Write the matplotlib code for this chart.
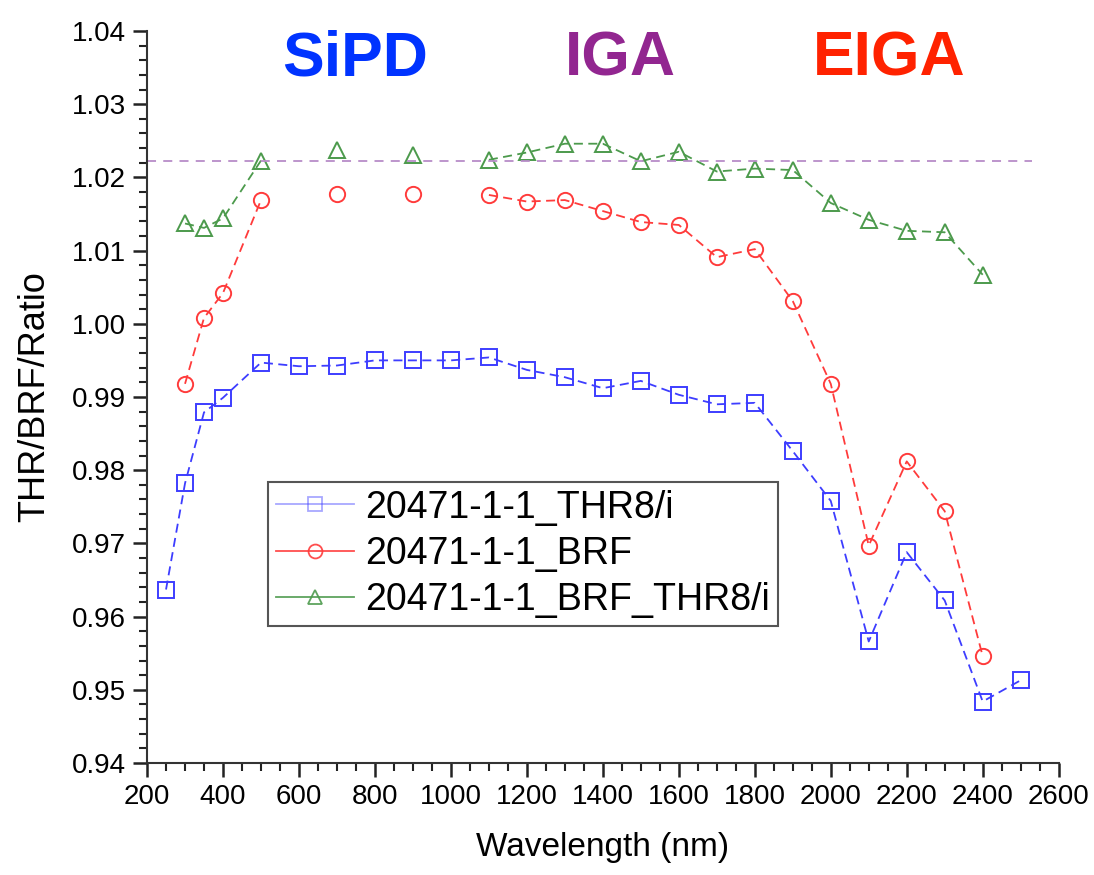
import numpy as np
import matplotlib
matplotlib.use('Agg')
import matplotlib.pyplot as plt
from matplotlib.lines import Line2D
from matplotlib.ticker import MultipleLocator, FormatStrFormatter

plt.rcParams['font.family'] = ['Liberation Sans', 'DejaVu Sans']

### DATA
# wavelength grid (nm)
wavelength = [250, 300, 350, 400, 500, 600, 700, 800, 900, 1000, 1100, 1200, 1300,
              1400, 1500, 1600, 1700, 1800, 1900, 2000, 2100, 2200, 2300, 2400, 2500]

# THR8/i ratio
thr8 = [0.9637, 0.9782, 0.9879, 0.9899, 0.9947, 0.9942, 0.9943, 0.9950, 0.9950, 0.9950,
        0.9954, 0.9937, 0.9927, 0.9912, 0.9922, 0.9903, 0.9890, 0.9892, 0.9826, 0.9758,
        0.9566, 0.9688, 0.9622, 0.9484, 0.9513]

# BRF ratio (no value at 250, 600, 800, 1000, 2500)
brf = [np.nan, 0.9918, 1.0008, 1.0042, 1.0169, np.nan, 1.0177, np.nan, 1.0177, np.nan,
       1.0176, 1.0167, 1.0169, 1.0154, 1.0139, 1.0135, 1.0091, 1.0102, 1.0031, 0.9918,
       0.9697, 0.9812, 0.9744, 0.9546, np.nan]

# BRF_THR8/i ratio
brf_thr8 = [np.nan, 1.0137, 1.0131, 1.0144, 1.0223, np.nan, 1.0237, np.nan, 1.0230, np.nan,
            1.0224, 1.0234, 1.0246, 1.0246, 1.0222, 1.0235, 1.0208, 1.0212, 1.0210, 1.0165,
            1.0142, 1.0127, 1.0125, 1.0067, np.nan]

labels = ['20471-1-1_THR8/i', '20471-1-1_BRF', '20471-1-1_BRF_THR8/i']
colors = ['#3d3dff', '#ff3b3b', '#4c9a4c']
markers = ['s', 'o', '^']

# reference level and detector bands
ref_level = 1.0222
ref_span = [200, 2530]
bands = ['SiPD', 'IGA', 'EIGA']
band_x = [747, 1445, 2155]
band_colors = ['#0033ff', '#922690', '#ff2200']

### FIGURE
fig = plt.figure(figsize=(10.94, 8.75), dpi=100)
ax = fig.add_axes([0.1344, 0.128, 0.8333, 0.8366])

series = [thr8, brf, brf_thr8]
for vals, lab, col, mk in zip(series, labels, colors, markers):
    ax.plot(wavelength, vals, linestyle=(0, (5, 3)), linewidth=1.3, color=col,
            marker=mk, markersize=11, markerfacecolor='none',
            markeredgecolor=col, markeredgewidth=1.4, label=lab)

ax.hlines(ref_level, ref_span[0], ref_span[1], colors='#b88cc8',
          linestyles=(0, (5, 4)), linewidth=1.3)

for name, bx, bc in zip(bands, band_x, band_colors):
    ax.text(bx, 1.0362, name, color=bc, fontsize=45, fontweight='bold',
            ha='center', va='center')

### AXES
ax.set_xlim(200, 2600)
ax.set_ylim(0.94, 1.04)
ax.xaxis.set_major_locator(MultipleLocator(200))
ax.xaxis.set_minor_locator(MultipleLocator(50))
ax.yaxis.set_major_locator(MultipleLocator(0.01))
ax.yaxis.set_minor_locator(MultipleLocator(0.002))
ax.yaxis.set_major_formatter(FormatStrFormatter('%.2f'))

for side in ['top', 'right']:
    ax.spines[side].set_visible(False)
for side in ['left', 'bottom']:
    ax.spines[side].set_linewidth(1.5)
    ax.spines[side].set_color('#333333')

ax.tick_params(axis='both', which='major', direction='out', length=10, width=1.8,
               color='#222222')
ax.tick_params(axis='both', which='minor', direction='out', length=6, width=1.5,
               color='#222222')
ax.tick_params(axis='x', which='major', labelsize=20, pad=5)
ax.tick_params(axis='y', which='major', labelsize=20, pad=5)

ax.set_xlabel('Wavelength (nm)', fontsize=24, labelpad=16)
ax.set_ylabel('THR/BRF/Ratio', fontsize=26, labelpad=14)

# legend with solid handle lines
handles = [Line2D([0], [0], color=c, linewidth=1.3, marker=m, markersize=10,
                  markerfacecolor='none', markeredgecolor=c, markeredgewidth=1.3,
                  alpha=a)
           for c, m, a in zip(colors, markers, [0.45, 0.9, 0.9])]
leg = ax.legend(handles, labels, loc='upper left',
                bbox_to_anchor=(268 / 1094, 1 - 482 / 875),
                bbox_transform=fig.transFigure, fontsize=27, frameon=True,
                fancybox=False, edgecolor='#555555', framealpha=1,
                borderpad=0.2, labelspacing=0.28, handlelength=2.1,
                handletextpad=0.3, borderaxespad=0)
leg.get_frame().set_linewidth(1.5)

fig.savefig('out.png', dpi=100)
